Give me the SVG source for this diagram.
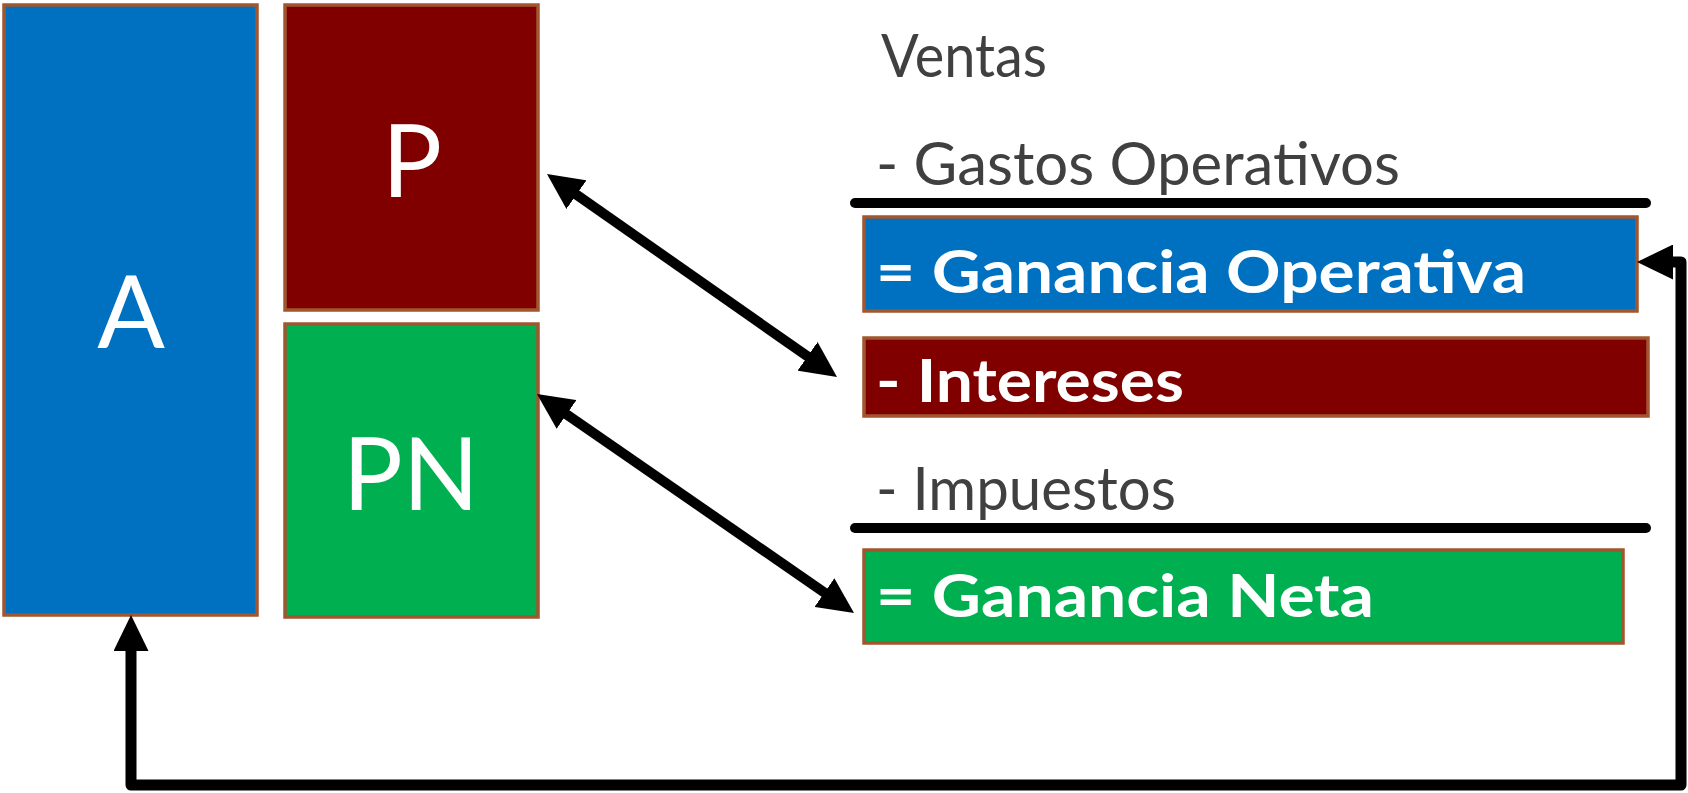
<svg xmlns="http://www.w3.org/2000/svg" width="1688" height="793" viewBox="0 0 1688 793">
<style>
.box{stroke:#A0572F;stroke-width:3.5}
.blue{fill:#0070C0}
.red{fill:#800000}
.green{fill:#00B050}
.big{font-family:Lato,"Open Sans","Liberation Sans",sans-serif;font-size:100px;fill:#ffffff;text-anchor:middle}
.plain{font-family:Lato,"Open Sans","Liberation Sans",sans-serif;font-size:60px;fill:#404040}
.bold{font-family:Lato,"Open Sans","Liberation Sans",sans-serif;font-size:60px;font-weight:bold;fill:#ffffff}
.rule{stroke:#000;stroke-width:10;stroke-linecap:round}
.conn{fill:none;stroke:#000;stroke-linejoin:round}
</style>
<defs>
<marker id="ah" markerUnits="userSpaceOnUse" viewBox="0 0 36 35" markerWidth="36" markerHeight="35" refX="4" refY="17.5" orient="auto-start-reverse">
<path d="M0,0 L36,17.5 L0,35 z" fill="#000"/>
</marker>
</defs>
<g id="node-A">
<rect class="box blue" x="4" y="5" width="253" height="610"/>
<text class="big" x="131" y="348">A</text>
</g>
<g id="node-P">
<rect class="box red" x="285" y="5" width="253" height="305"/>
<text class="big" x="412" y="197">P</text>
</g>
<g id="node-PN">
<rect class="box green" x="285" y="324" width="253" height="293"/>
<text class="big" x="411" y="510">PN</text>
</g>
<g id="node-ventas">
<text class="plain" x="881" y="77" textLength="166" lengthAdjust="spacingAndGlyphs">Ventas</text>
</g>
<g id="node-gastos">
<text class="plain" x="876" y="185" textLength="524" lengthAdjust="spacingAndGlyphs">- Gastos Operativos</text>
<line class="rule" x1="855" y1="203" x2="1646" y2="203"/>
</g>
<g id="node-ganancia-operativa">
<rect class="box blue" x="864" y="217" width="773" height="94"/>
<text class="bold" x="876" y="293" textLength="650" lengthAdjust="spacingAndGlyphs">= Ganancia Operativa</text>
</g>
<g id="node-intereses">
<rect class="box red" x="864" y="338" width="784" height="78"/>
<text class="bold" x="876" y="402" textLength="308" lengthAdjust="spacingAndGlyphs">- Intereses</text>
</g>
<g id="node-impuestos">
<text class="plain" x="876" y="510" textLength="300" lengthAdjust="spacingAndGlyphs">- Impuestos</text>
<line class="rule" x1="855" y1="528" x2="1646" y2="528"/>
</g>
<g id="node-ganancia-neta">
<rect class="box green" x="864" y="550" width="759" height="93"/>
<text class="bold" x="876" y="617" textLength="498" lengthAdjust="spacingAndGlyphs">= Ganancia Neta</text>
</g>
<g id="connectors">
<line class="conn" stroke-width="10" x1="573.2" y1="192.3" x2="810.8" y2="358.7" marker-start="url(#ah)" marker-end="url(#ah)"/>
<line class="conn" stroke-width="10" x1="563.3" y1="412.2" x2="827.7" y2="594.8" marker-start="url(#ah)" marker-end="url(#ah)"/>
<path class="conn" stroke-width="11" d="M1669,262 H1681 V785 H131 V647" marker-start="url(#ah)" marker-end="url(#ah)"/>
</g>
</svg>
